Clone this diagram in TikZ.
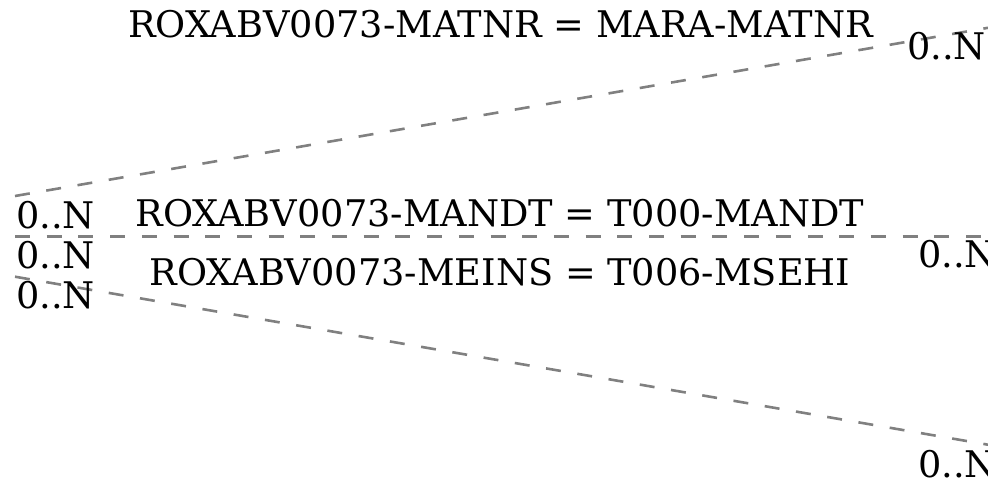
\documentclass[tikz,border=0pt]{standalone}
\usepackage{fontspec}
\setmainfont{DejaVu Serif}
\begin{document}
\begin{tikzpicture}[x=1pt,y=-1pt,
  rel/.style={draw=black!50, line width=2.6pt, dash pattern=on 15pt off 16.7pt},
  lbl/.style={inner sep=0pt, font=\fontsize{36.7}{40}\selectfont, anchor=base},
  card/.style={inner sep=0pt, font=\fontsize{36.7}{40}\selectfont, anchor=base west}]
\useasboundingbox (0,0) rectangle (988,482);
% connector end points
\coordinate (l1) at (15,196);
\coordinate (r1) at (988,27.8);
\coordinate (l2) at (15,236.7);
\coordinate (r2) at (988,236.7);
\coordinate (l3) at (15,276.7);
\coordinate (r3) at (988,444.7);
\draw[rel] (l1) -- (r1);
\draw[rel] (l2) -- (r2);
\draw[rel] (l3) -- (r3);
% labels
\node[lbl] (t1) at (500.5,37.7) {ROXABV0073-MATNR = MARA-MATNR};
\node[lbl] (t2) at (500,226.7) {ROXABV0073-MANDT = T000-MANDT};
\node[lbl] (t3) at (500,285) {ROXABV0073-MEINS = T006-MSEHI};
% cardinalities
\node[card] (c1l) at (16,228) {0..N};
\node[card] (c2l) at (16,268) {0..N};
\node[card] (c3l) at (16,308) {0..N};
\node[card] (c1r) at (907,59) {0..N};
\node[card] (c2r) at (918,267) {0..N};
\node[card] (c3r) at (918,477) {0..N};
\end{tikzpicture}
\end{document}
